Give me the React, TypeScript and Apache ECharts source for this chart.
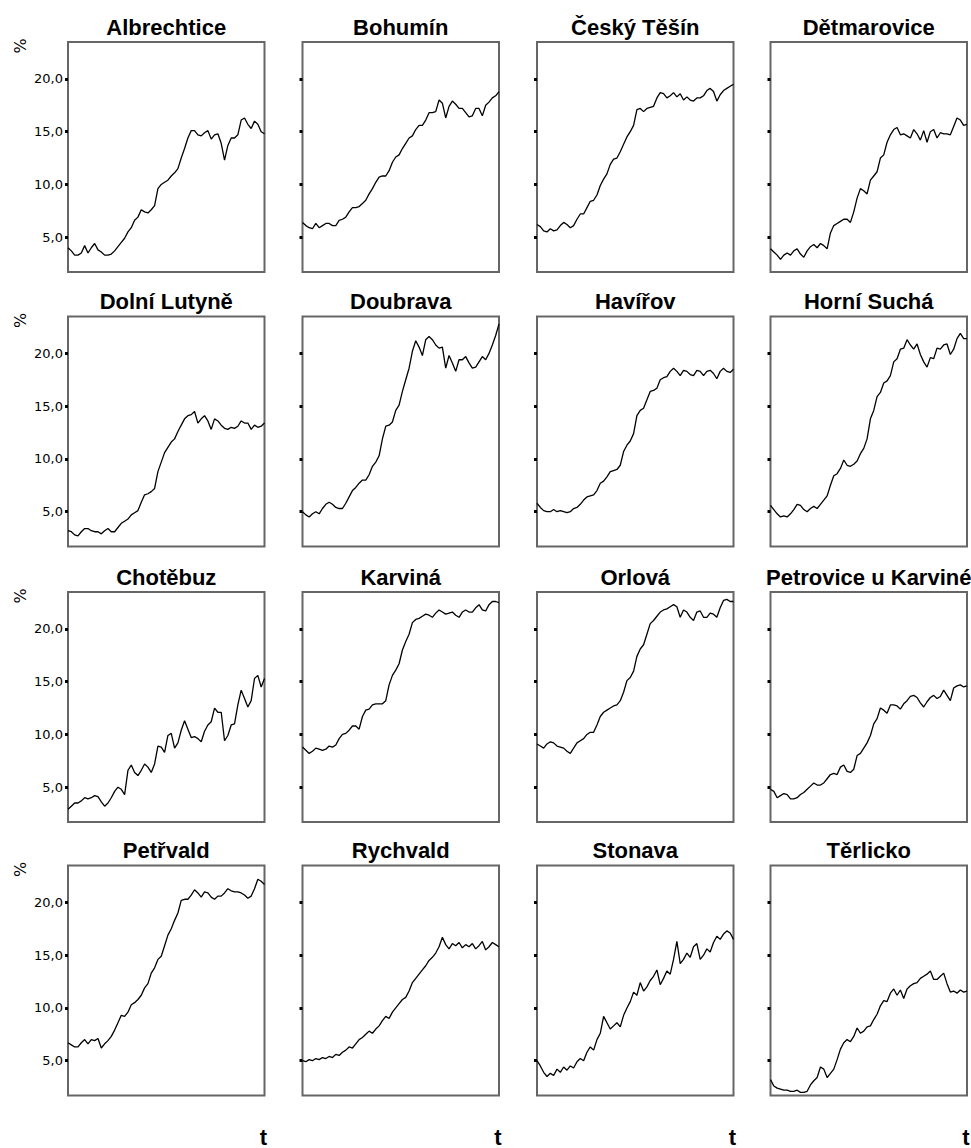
import React, { useEffect, useRef } from "react";
import * as echarts from "echarts";

const TOWNS = [
  "Albrechtice", "Bohumín", "Český Těšín", "Dětmarovice",
  "Dolní Lutyně", "Doubrava", "Havířov", "Horní Suchá",
  "Chotěbuz", "Karviná", "Orlová", "Petrovice u Karviné",
  "Petřvald", "Rychvald", "Stonava", "Těrlicko",
];

const Y_TICKS = [5, 10, 15, 20];

const albrechtice = [4.0,3.7,3.3,3.3,3.5,4.2,3.5,4.0,4.4,3.8, 3.6,3.3,3.3,3.4,3.7,4.1,4.5,4.9,5.5,5.9, 6.6,6.9,7.6,7.4,7.3,7.6,8.0,9.6,10.0,10.2, 10.4,10.8,11.1,11.5,12.5,13.4,14.4,15.1,15.1,14.7, 14.6,14.9,15.1,14.3,14.7,14.8,13.9,12.3,13.7,14.4, 14.4,14.7,16.1,16.3,15.7,15.3,16.0,15.7,15.0,14.8];
const bohumin = [6.4,6.1,5.9,5.8,6.3,5.9,6.1,6.3,6.3,6.1, 6.1,6.6,6.7,6.9,7.4,7.8,7.8,7.9,8.2,8.5, 9.1,9.6,10.2,10.7,10.8,10.8,11.3,12.1,12.6,12.8, 13.4,13.9,14.4,14.6,15.2,15.6,15.6,16.1,16.8,16.8, 16.9,18.0,17.7,16.3,17.4,17.9,17.6,17.2,17.2,16.8, 16.4,16.5,17.2,17.2,16.5,17.5,17.8,18.2,18.4,18.8];
const ceskyTesin = [6.2,6.0,5.6,5.5,5.8,5.6,5.7,6.1,6.4,6.2, 5.9,6.1,6.7,7.2,7.2,7.8,8.4,8.5,9.0,9.9, 10.5,11.0,11.9,12.4,12.5,13.1,13.8,14.5,15.0,15.6, 17.1,17.2,16.9,17.2,17.3,17.4,18.2,18.7,18.6,18.2, 18.4,18.7,18.3,18.6,18.0,18.3,18.0,17.9,18.2,18.2, 18.4,18.9,19.1,18.8,17.9,18.5,18.9,19.1,19.3,19.5];
const detmarovice = [3.9,3.6,3.3,2.9,3.3,3.5,3.3,3.7,3.9,3.4, 3.1,3.7,4.1,4.3,4.0,4.4,4.2,3.9,5.4,6.1, 6.3,6.5,6.7,6.7,6.4,7.4,8.7,9.6,9.4,9.1, 10.4,10.8,11.2,12.5,12.8,14.0,14.7,15.2,15.4,14.7, 14.8,14.6,14.4,15.2,14.8,14.2,15.1,14.0,15.0,15.2, 14.4,14.9,14.8,14.8,14.7,15.5,16.3,16.1,15.6,15.7];
const dolniLutyne = [3.2,3.1,2.8,2.7,3.1,3.4,3.4,3.2,3.1,3.1, 2.9,3.2,3.4,3.1,3.1,3.5,3.9,4.1,4.3,4.7, 4.9,5.1,5.9,6.6,6.7,6.9,7.2,8.8,9.7,10.6, 11.1,11.6,11.9,12.6,13.2,13.8,14.1,14.2,14.5,13.4, 13.8,14.1,13.6,12.8,13.8,13.6,13.2,12.9,12.8,13.0, 12.9,13.1,13.6,13.4,13.4,12.8,13.2,13.0,13.1,13.4];
const doubrava = [5.0,4.7,4.5,4.8,5.0,4.8,5.3,5.7,5.9,5.7, 5.4,5.3,5.3,5.8,6.4,7.0,7.3,7.7,8.0,8.0, 8.5,9.3,9.7,10.3,11.9,13.1,13.2,13.5,14.6,15.1, 16.4,17.5,18.6,20.2,21.2,20.6,19.8,21.3,21.6,21.3, 20.8,20.5,20.6,18.6,19.8,19.1,18.3,19.4,19.4,19.7, 19.1,18.6,18.7,19.2,19.7,19.4,20.0,20.8,21.7,22.8];
const havirov = [5.8,5.4,5.1,5.0,5.0,5.2,5.0,5.1,5.0,4.9, 5.0,5.3,5.4,5.7,6.1,6.4,6.5,6.6,7.0,7.7, 7.9,8.3,8.8,8.9,9.0,9.4,10.7,11.3,11.7,12.4, 14.1,14.6,14.8,15.6,16.4,16.5,16.7,17.5,17.7,17.8, 18.3,18.6,18.3,17.9,18.4,18.3,18.0,17.9,18.4,18.3, 17.9,18.3,18.4,18.1,17.6,18.3,18.6,18.3,18.2,18.5];
const horniSucha = [5.6,5.2,4.8,4.5,4.6,4.5,4.8,5.2,5.7,5.6, 5.2,5.0,5.3,5.5,5.3,5.7,6.1,6.5,7.5,8.4, 8.6,9.1,9.9,9.4,9.3,9.5,9.8,10.5,11.0,11.9, 13.8,14.6,15.9,16.3,17.2,17.4,17.9,19.2,19.5,20.4, 20.5,21.3,20.8,20.4,20.9,19.9,19.2,18.7,19.6,19.5, 20.5,20.4,20.8,20.9,19.9,20.4,21.4,21.9,21.4,21.4];
const chotebuz = [2.9,3.2,3.5,3.5,3.7,4.0,3.9,4.0,4.2,4.1, 3.6,3.2,3.5,4.0,4.6,5.0,4.8,4.3,6.6,7.1, 6.4,6.1,6.6,7.2,6.9,6.4,7.2,8.9,8.8,8.3, 9.9,10.1,8.7,9.2,10.4,11.3,10.5,9.7,9.8,9.6, 9.3,10.3,10.9,11.2,12.5,12.1,12.1,9.4,9.9,10.9, 11.0,12.8,14.2,13.4,12.6,13.2,15.3,15.6,14.5,15.3];
const karvina = [8.8,8.5,8.2,8.4,8.7,8.6,8.5,8.6,8.9,8.8, 9.0,9.6,10.0,10.1,10.4,10.8,10.8,10.5,11.7,12.3, 12.4,12.8,12.9,12.9,12.9,13.2,14.7,15.6,16.1,16.7, 18.0,18.8,19.5,20.6,20.9,21.0,21.2,21.4,21.3,21.1, 21.5,21.8,21.6,21.4,21.5,21.6,21.3,21.1,21.6,21.8, 21.6,21.6,22.0,22.3,21.8,21.7,22.3,22.6,22.6,22.5];
const orlova = [9.1,8.9,8.7,9.1,9.3,9.2,8.9,8.8,8.7,8.4, 8.2,8.7,9.2,9.4,9.6,10.0,10.2,10.2,10.9,11.7, 12.1,12.3,12.5,12.7,12.8,13.2,14.0,15.1,15.4,16.0, 17.4,18.1,18.5,19.5,20.5,20.8,21.2,21.6,21.8,21.9, 22.1,22.3,22.1,21.1,21.8,21.6,21.1,20.8,21.6,21.7, 21.1,21.1,21.5,21.4,21.1,22.0,22.7,22.8,22.6,22.6];
const petrovice = [4.8,4.6,4.0,4.2,4.4,4.3,3.9,3.9,4.0,4.3, 4.5,4.8,5.1,5.4,5.2,5.2,5.4,5.8,6.2,6.3, 6.2,6.9,7.1,6.5,6.4,6.7,8.0,8.2,8.7,9.2, 9.9,11.0,11.5,12.5,12.3,12.0,12.8,12.8,12.7,12.4, 12.9,13.2,13.6,13.7,13.5,13.0,12.6,13.1,13.5,13.7, 13.4,13.6,14.2,13.7,13.2,14.4,14.6,14.7,14.5,14.6];
const petrvald = [6.7,6.5,6.3,6.3,6.7,7.0,6.6,7.0,6.9,7.1, 6.2,6.6,6.9,7.3,7.9,8.6,9.3,9.2,9.6,10.3, 10.5,10.8,11.2,11.9,12.3,13.3,13.8,14.6,14.9,15.9, 16.9,17.5,18.3,19.0,20.2,20.3,20.3,20.7,21.2,20.9, 20.5,21.0,20.9,20.5,20.3,20.6,20.6,20.9,21.3,21.1, 21.0,21.0,20.9,20.7,20.4,20.6,21.3,22.2,22.0,21.7];
const rychvald = [5.0,4.9,5.1,5.0,5.2,5.1,5.3,5.2,5.4,5.3, 5.6,5.5,5.8,6.0,6.3,6.2,6.6,7.0,7.2,7.5, 7.8,7.6,8.0,8.3,8.8,9.2,9.0,9.6,10.0,10.4, 10.8,11.0,11.6,12.4,12.8,13.2,13.6,14.0,14.5,14.8, 15.2,15.8,16.7,16.0,15.6,16.1,15.9,16.2,15.7,16.0, 15.8,16.1,15.6,15.9,16.3,15.5,15.8,16.2,16.0,15.8];
const stonava = [5.0,4.5,3.9,3.5,3.8,3.6,4.2,3.9,4.4,4.1, 4.5,4.3,4.9,5.2,5.0,5.8,6.3,6.0,7.0,7.6, 9.2,8.6,8.0,8.3,8.6,8.2,9.3,10.0,10.6,11.5, 11.2,12.4,11.6,12.0,12.6,13.0,13.6,12.2,12.8,13.5, 13.2,14.6,16.3,14.2,14.6,15.2,14.8,15.8,16.1,14.6, 15.0,15.6,15.3,16.2,16.8,16.5,17.0,17.3,17.1,16.5];
const terlicko = [3.2,2.6,2.4,2.3,2.2,2.2,2.1,2.1,2.2,2.0, 2.0,2.1,2.7,3.1,3.4,4.4,4.2,3.4,3.8,4.2, 5.1,6.1,6.7,7.0,6.8,7.3,8.1,7.6,7.8,8.2, 8.3,8.9,9.4,10.2,10.7,10.6,11.4,11.8,11.2,11.7, 10.9,11.8,12.1,12.3,12.4,12.8,13.0,13.2,13.5,12.7, 12.7,13.0,13.3,12.3,11.5,11.6,11.4,11.7,11.5,11.6];

const SERIES_DATA = [
  albrechtice, bohumin, ceskyTesin, detmarovice,
  dolniLutyne, doubrava, havirov, horniSucha,
  chotebuz, karvina, orlova, petrovice,
  petrvald, rychvald, stonava, terlicko,
];

const T_INDEX = albrechtice.map((_, i) => String(i + 1));

// layout
const COL_LEFT = [68, 302.5, 537, 770.5];
const ROW_TOP = [42, 316.5, 592, 865.5];
const CELL_W = 196.5;
const CELL_H = 230;
const Y_MIN = 1.7;
const Y_MAX = 23.5;

export default function App() {
  const ref = useRef<HTMLDivElement>(null);

  useEffect(() => {
    if (!ref.current) return;
    const chart = echarts.init(ref.current, undefined, { renderer: "svg" });

    const grids: any[] = [];
    const xAxes: any[] = [];
    const yAxes: any[] = [];
    const series: any[] = [];
    const graphics: any[] = [];

    SERIES_DATA.forEach((data, i) => {
      const r = Math.floor(i / 4);
      const c = i % 4;
      const left = COL_LEFT[c];
      const top = ROW_TOP[r];
      grids.push({
        left, top, width: CELL_W, height: CELL_H,
        show: true, borderColor: "#666", borderWidth: 2, backgroundColor: "#fff",
        containLabel: false,
      });
      xAxes.push({
        gridIndex: i, type: "category", data: T_INDEX, boundaryGap: false, show: false,
      });
      yAxes.push({
        gridIndex: i, type: "value", min: Y_MIN, max: Y_MAX,
        axisLine: { show: false },
        splitLine: { show: false },
        axisTick: {
          show: true, length: 3, customValues: Y_TICKS,
          lineStyle: { color: "#000", width: 3 },
        },
        axisLabel: {
          show: c === 0,
          customValues: Y_TICKS,
          formatter: (v: number) => v.toFixed(1).replace(".", ","),
          color: "#000",
          fontSize: 13,
          fontFamily: "DejaVu Sans",
          margin: 5,
        },
      });
      series.push({
        type: "line", xAxisIndex: i, yAxisIndex: i, data,
        showSymbol: false, symbol: "none",
        lineStyle: { color: "#000", width: 1.3 },
        emphasis: { disabled: true },
      });
      graphics.push({
        type: "text",
        x: left + CELL_W / 2,
        y: top - 15,
        style: {
          text: TOWNS[i],
          font: 'bold 22px "Liberation Sans", Arial, sans-serif',
          fill: "#000",
          textAlign: "center", align: "center",
          textVerticalAlign: "middle", verticalAlign: "middle",
        },
      });
      if (c === 0) {
        graphics.push({
          type: "text",
          x: 20,
          y: top + 4,
          rotation: Math.PI / 2,
          style: {
            text: "%",
            font: '16px "DejaVu Sans", sans-serif',
            fill: "#000",
            textAlign: "center", align: "center",
            textVerticalAlign: "middle", verticalAlign: "middle",
          },
        });
      }
      if (r === 3) {
        graphics.push({
          type: "text",
          x: left + CELL_W - 1,
          y: 1137,
          style: {
            text: "t",
            font: 'bold 22px "Liberation Sans", Arial, sans-serif',
            fill: "#000",
            textAlign: "center", align: "center",
            textVerticalAlign: "middle", verticalAlign: "middle",
          },
        });
      }
    });

    chart.setOption({
      animation: false,
      backgroundColor: "#fff",
      grid: grids,
      xAxis: xAxes,
      yAxis: yAxes,
      series,
      graphic: graphics,
    });

    return () => chart.dispose();
  }, []);

  return (
    <div
      ref={ref}
      style={{ position: "fixed", left: 0, top: 0, width: 971, height: 1148, background: "#fff" }}
    />
  );
}
